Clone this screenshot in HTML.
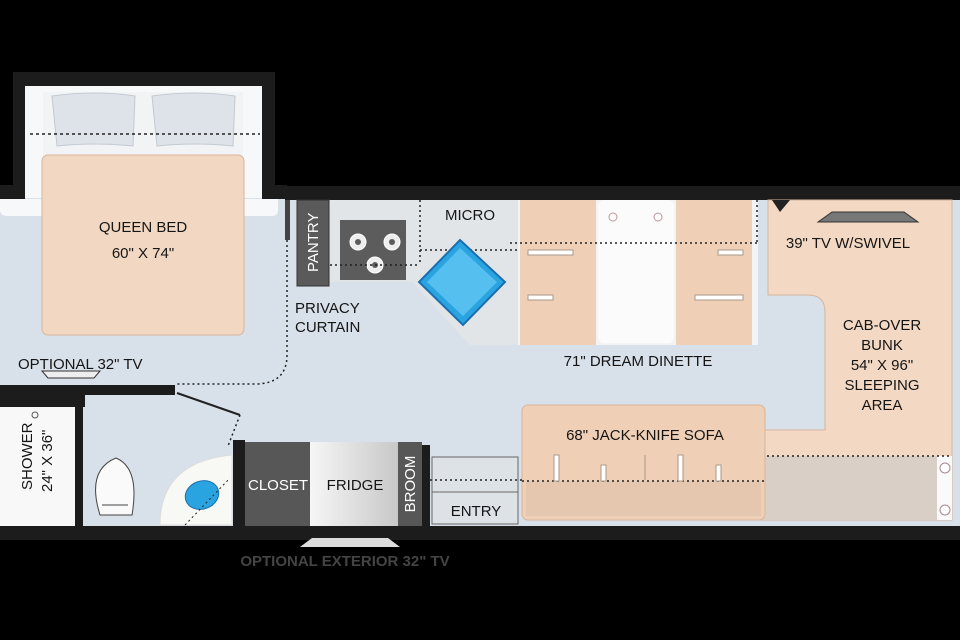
<!DOCTYPE html>
<html><head><meta charset="utf-8"><style>
html,body{margin:0;padding:0;background:#000}
svg{display:block}
text{font-family:"Liberation Sans Narrow","Liberation Sans",sans-serif;fill:#151515;font-size:15px}
</style></head><body>
<svg width="960" height="640" viewBox="0 0 960 640" xmlns="http://www.w3.org/2000/svg">
<rect width="960" height="640" fill="#000"/>
<rect x="0" y="198" width="960" height="330" fill="#d8e0e9"/>
<rect x="285" y="186" width="680" height="14" fill="#1c1c1c"/>
<rect x="0" y="526" width="960" height="14" fill="#1c1c1c"/>
<rect x="13" y="72" width="262" height="125" fill="#1c1c1c"/>
<rect x="25" y="86" width="237" height="112" fill="#f7f8f9"/>
<rect x="0" y="185" width="25" height="14" fill="#1c1c1c"/>
<rect x="262" y="185" width="25" height="14" fill="#1c1c1c"/>
<path d="M0 199 H278 V210 Q278 216 272 216 H8 Q0 216 0 210 Z" fill="#f7f8f9"/>
<rect x="43" y="92" width="200" height="70" fill="#f2f3f4"/>
<path d="M52 96 Q95 90 135 96 L133 146 Q95 142 57 146 Z" fill="#dde3e9" stroke="#c3cad2"/>
<path d="M152 96 Q195 90 235 96 L233 146 Q195 142 157 146 Z" fill="#dde3e9" stroke="#c3cad2"/>
<line x1="30" y1="134" x2="260" y2="134" stroke="#222" stroke-width="1.5" stroke-dasharray="3,3"/>
<rect x="42" y="155" width="202" height="180" rx="6" fill="#f2d8c2" stroke="#d8b49a"/>
<text x="143" y="232" text-anchor="middle">QUEEN BED</text>
<text x="143" y="258" text-anchor="middle">60" X 74"</text>
<path d="M287 205 V355 Q287 384 255 384 H176" fill="none" stroke="#222" stroke-width="1.5" stroke-dasharray="2,3"/>
<rect x="285" y="200" width="5" height="40" fill="#444"/>
<text x="295" y="313" font-size="14">PRIVACY</text>
<text x="295" y="332" font-size="14">CURTAIN</text>
<rect x="297" y="200" width="32" height="86" fill="#5a5a5a" stroke="#333"/>
<text transform="translate(318,272) rotate(-90)" style="fill:#fff" font-size="14">PANTRY</text>
<path d="M330 200 H518 V345 H470 L412 282 H330 Z" fill="#e2e5e8"/>
<rect x="340" y="220" width="66" height="60" fill="#5c5c5c"/>
<g fill="#eee" stroke="#fff">
<circle cx="358" cy="242" r="8"/><circle cx="392" cy="242" r="8"/><circle cx="375" cy="265" r="8"/></g>
<g fill="#5c5c5c"><circle cx="358" cy="242" r="3"/><circle cx="392" cy="242" r="3"/><circle cx="375" cy="265" r="3"/></g>
<line x1="330" y1="265" x2="420" y2="265" stroke="#222" stroke-width="1.5" stroke-dasharray="2,3"/>
<line x1="420" y1="200" x2="420" y2="265" stroke="#222" stroke-width="1.5" stroke-dasharray="2,3"/>
<line x1="420" y1="250" x2="520" y2="250" stroke="#222" stroke-width="1.5" stroke-dasharray="2,3"/>
<text x="470" y="220" text-anchor="middle">MICRO</text>
<path d="M460 240 L505 282 L463 325 L419 282 Z" fill="#2aa4e0" stroke="#1a6fb0" stroke-width="2"/>
<path d="M460 248 L497 282 L463 316 L427 282 Z" fill="#55bff0"/>
<rect x="518" y="200" width="240" height="145" fill="#f2f3f4"/>
<rect x="520" y="200" width="76" height="145" fill="#efcfb6"/>
<rect x="676" y="200" width="76" height="145" fill="#efcfb6"/>
<rect x="598" y="200" width="76" height="143" rx="6" fill="#fbfbfb"/>
<circle cx="613" cy="217" r="4" fill="none" stroke="#b99"/>
<circle cx="658" cy="217" r="4" fill="none" stroke="#b99"/>
<line x1="510" y1="243" x2="758" y2="243" stroke="#222" stroke-width="1.5" stroke-dasharray="2,3"/>
<line x1="757" y1="200" x2="757" y2="243" stroke="#222" stroke-width="1.5" stroke-dasharray="2,3"/>
<g fill="#fff" stroke="#a98"><rect x="528" y="250" width="45" height="5"/><rect x="528" y="295" width="25" height="5"/><rect x="718" y="250" width="25" height="5"/><rect x="695" y="295" width="48" height="5"/></g>
<text x="638" y="366" text-anchor="middle">71" DREAM DINETTE</text>
<path d="M768 200 H952 V520 H757 V438 Q757 430 765 430 H825 V312 Q825 295 808 295 H768 Z" fill="#f3d9c3" stroke="#d6b59c"/>
<rect x="757" y="456" width="180" height="64" fill="#dacfc6"/>
<rect x="937" y="456" width="15" height="64" fill="#fafafa"/>
<circle cx="945" cy="468" r="5" fill="#fff" stroke="#a88"/>
<circle cx="945" cy="510" r="5" fill="#fff" stroke="#a88"/>
<line x1="757" y1="456" x2="952" y2="456" stroke="#222" stroke-width="1.5" stroke-dasharray="2,3"/>
<path d="M772 200 H790 L780 212 Z" fill="#222"/>
<path d="M818 222 L832 212 H904 L918 222 Z" fill="#777" stroke="#333"/>
<text x="848" y="248" text-anchor="middle">39" TV W/SWIVEL</text>
<text x="882" y="330" text-anchor="middle">CAB-OVER</text>
<text x="882" y="350" text-anchor="middle">BUNK</text>
<text x="882" y="370" text-anchor="middle">54" X 96"</text>
<text x="882" y="390" text-anchor="middle">SLEEPING</text>
<text x="882" y="410" text-anchor="middle">AREA</text>
<rect x="522" y="405" width="243" height="115" rx="6" fill="#efcfb6" stroke="#d8b49a"/>
<rect x="526" y="481" width="235" height="35" fill="#e5c7b0"/>
<line x1="522" y1="481" x2="765" y2="481" stroke="#222" stroke-width="1.5" stroke-dasharray="2,3"/>
<line x1="645" y1="455" x2="645" y2="480" stroke="#a98"/>
<g fill="#fff" stroke="#a98"><rect x="554" y="455" width="5" height="26"/><rect x="601" y="465" width="5" height="16"/><rect x="678" y="455" width="5" height="26"/><rect x="716" y="465" width="5" height="16"/></g>
<text x="645" y="440" text-anchor="middle">68" JACK-KNIFE SOFA</text>
<rect x="432" y="457" width="86" height="67" fill="#dde2e7" stroke="#666"/>
<line x1="432" y1="492" x2="518" y2="492" stroke="#666"/>
<line x1="425" y1="480" x2="522" y2="480" stroke="#222" stroke-width="1.5" stroke-dasharray="2,3"/>
<text x="476" y="516" text-anchor="middle">ENTRY</text>
<rect x="0" y="385" width="175" height="10" fill="#1c1c1c"/>
<rect x="0" y="395" width="85" height="12" fill="#1c1c1c"/>
<rect x="75" y="405" width="8" height="122" fill="#1c1c1c"/>
<rect x="0" y="407" width="75" height="119" fill="#f8f8f8"/>
<circle cx="35" cy="415" r="3" fill="none" stroke="#555"/>
<text transform="translate(32,490) rotate(-90)" font-size="14">SHOWER</text>
<text transform="translate(52,492) rotate(-90)" font-size="14">24" X 36"</text>
<path d="M48 378 L42 371 H100 L94 378 Z" fill="#eee" stroke="#333"/>
<text x="18" y="369" font-size="14">OPTIONAL 32" TV</text>
<path d="M100 515 Q86 470 116 458 Q140 468 132 515 Z" fill="#fafafa" stroke="#444"/>
<line x1="102" y1="505" x2="128" y2="505" stroke="#444"/>
<line x1="177" y1="393" x2="240" y2="415" stroke="#222" stroke-width="2"/>
<line x1="240" y1="415" x2="228" y2="446" stroke="#222" stroke-width="1.5" stroke-dasharray="2,3"/>
<path d="M160 525 Q160 462 232 455 V525 Z" fill="#f8f8f4" stroke="#ddd"/>
<ellipse cx="202" cy="495" rx="17" ry="14" transform="rotate(-20 202 495)" fill="#2aa4e0" stroke="#1a6fb0"/>
<line x1="185" y1="525" x2="230" y2="478" stroke="#222" stroke-dasharray="2,3"/>
<rect x="233" y="440" width="12" height="88" fill="#1c1c1c"/>
<rect x="245" y="442" width="65" height="84" fill="#575757"/>
<text x="278" y="490" text-anchor="middle" style="fill:#fff" font-size="15">CLOSET</text>
<defs><linearGradient id="fg" x1="0" x2="1"><stop offset="0" stop-color="#f6f6f6"/><stop offset="1" stop-color="#c8c8c8"/></linearGradient></defs>
<rect x="310" y="442" width="88" height="84" fill="url(#fg)"/>
<text x="355" y="490" text-anchor="middle" font-size="15">FRIDGE</text>
<rect x="398" y="442" width="24" height="84" fill="#575757"/>
<text transform="translate(415,484) rotate(-90)" text-anchor="middle" style="fill:#fff" font-size="13">BROOM</text>
<rect x="422" y="445" width="8" height="83" fill="#1c1c1c"/>
<path d="M300 547 L312 538 H388 L400 547 Z" fill="#ddd"/>
<text x="345" y="566" text-anchor="middle" style="fill:#444" font-size="15" font-weight="bold">OPTIONAL EXTERIOR 32" TV</text>
</svg>
</body></html>
